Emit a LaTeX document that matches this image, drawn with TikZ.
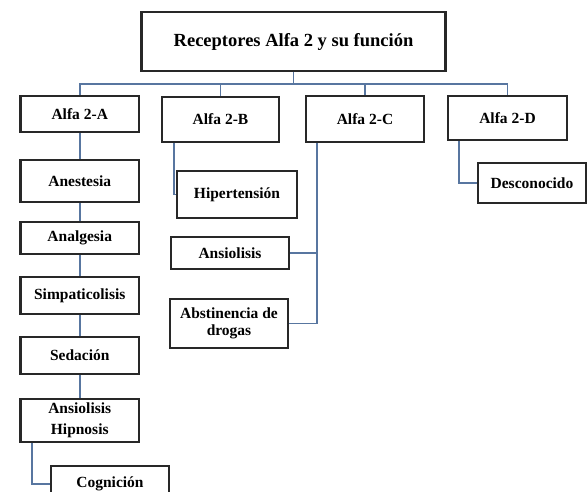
\documentclass[tikz,border=0pt]{standalone}
\usepackage{fontspec}
\setmainfont{Liberation Serif}
\usetikzlibrary{calc}
\definecolor{conncol}{RGB}{88,118,160}
\definecolor{boxcol}{RGB}{40,40,40}
\tikzset{
  box/.style={draw=boxcol, line width=2.2pt, fill=white, rectangle, inner sep=0pt,
    align=center, font=\fontsize{15.5}{17}\selectfont\bfseries},
  conn/.style={draw=conncol, line width=1.8pt},
}
\begin{document}
\begin{tikzpicture}[x=1pt,y=-1pt]
\useasboundingbox (0,0) rectangle (587,491);
\clip (0,0) rectangle (587,491);
\fill[white] (0,0) rectangle (587,491);
% nodes
\node[box, minimum width=304, minimum height=59, font=\fontsize{18.5}{20}\selectfont\bfseries] (top) at (293.5,41.5) {Receptores Alfa 2 y su función};
\node[box, minimum width=118.5, minimum height=36] (A) at (79.75,114) {Alfa 2-A};
\node[box, minimum width=117, minimum height=45] (B) at (220.5,119.5) {Alfa 2-B};
\node[box, minimum width=118, minimum height=46] (C) at (365,119) {Alfa 2-C};
\node[box, minimum width=119, minimum height=44] (D) at (507.5,118) {Alfa 2-D};
\node[box, minimum width=118.5, minimum height=42] (anest) at (79.75,181) {Anestesia};
\node[box, minimum width=118.5, minimum height=32] (analg) at (79.75,238) {Analgesia};
\node[box, minimum width=118.5, minimum height=37] (simp) at (79.75,295.5) {Simpaticolisis};
\node[box, minimum width=118.5, minimum height=37] (sed) at (79.75,355.5) {Sedación};
\node[box, minimum width=118.5, minimum height=43, font=\fontsize{15.5}{21}\selectfont\bfseries] (anship) at (79.75,420.5) {Ansiolisis\\Hipnosis};
\node[box, minimum width=118, minimum height=36] (cog) at (110,484) {Cognición};
\node[box, minimum width=120, minimum height=47] (hip) at (237,194.5) {Hipertensión};
\node[box, minimum width=118, minimum height=32] (ans) at (230,253) {Ansiolisis};
\node[box, minimum width=118, minimum height=49] (abst) at (229,323.5) {Abstinencia de\\drogas};
\node[box, minimum width=108, minimum height=40] (desc) at (532,183) {Desconocido};
% connectors
\begin{scope}[on background layer/.style={}]
\end{scope}
\coordinate (bus) at (293.5,84);
\coordinate (bl) at ($(B.south west)+(13,0)$);
\coordinate (cl) at ($(C.south west)+(12,0)$);
\coordinate (dl) at ($(D.south west)+(12,0)$);
\coordinate (al) at ($(anship.south west)+(12.5,0)$);
\draw[conn] (top.south) -- (bus);
\draw[conn] (bus) -| (A.north);
\draw[conn] (bus) -| (B.north);
\draw[conn] (bus) -| (C.north);
\draw[conn] (bus) -| (D.north);
\draw[conn] (A.south) -- (anest.north);
\draw[conn] (anest.south) -- (analg.north);
\draw[conn] (analg.south) -- (simp.north);
\draw[conn] (simp.south) -- (sed.north);
\draw[conn] (sed.south) -- (anship.north);
\draw[conn] (al) |- (cog.west);
\draw[conn] (bl) |- (hip.west);
\draw[conn] (cl) |- (abst.east);
\draw[conn] (ans.east) -- (ans.east -| cl);
\draw[conn] (dl) |- (desc.west);
\end{tikzpicture}
\end{document}
